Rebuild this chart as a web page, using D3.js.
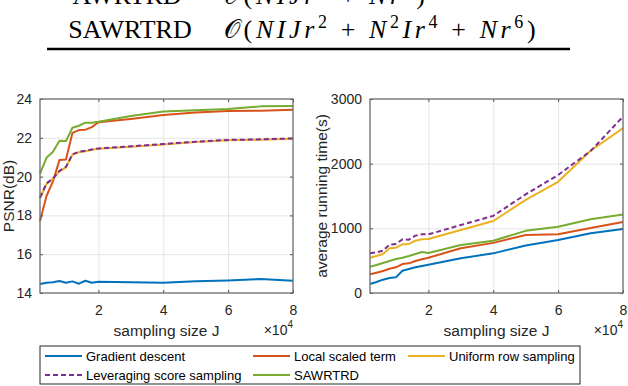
<!DOCTYPE html>
<html>
<head>
<meta charset="utf-8">
<script src="https://cdn.jsdelivr.net/npm/d3@7"></script>
<style>
  body { margin: 0; background: #fff; }
  svg { display: block; }
  .tick text { font-family: "Liberation Sans", Arial, sans-serif; fill: #262626; }
</style>
</head>
<body>
<script>
// sampling size J (x 10^4)
var samplingJ = [0.2, 0.4, 0.6, 0.8, 1.0, 1.2, 1.4, 1.6, 1.8, 2.0, 3, 4, 5, 6, 7, 8];

// PSNR(dB)
var psnrGradient   = [14.46, 14.53, 14.55, 14.62, 14.53, 14.60, 14.48, 14.63, 14.53, 14.58, 14.56, 14.53, 14.60, 14.65, 14.72, 14.63];
var psnrLocal      = [17.70, 19.00, 19.75, 20.85, 20.88, 22.25, 22.40, 22.42, 22.55, 22.80, 22.97, 23.17, 23.30, 23.38, 23.40, 23.45];
var psnrUniform    = [18.88, 19.62, 19.88, 20.27, 20.48, 21.13, 21.26, 21.31, 21.38, 21.43, 21.54, 21.66, 21.78, 21.87, 21.90, 21.95];
var psnrLeverage   = [18.92, 19.65, 19.90, 20.30, 20.50, 21.15, 21.28, 21.33, 21.40, 21.45, 21.56, 21.68, 21.80, 21.89, 21.92, 21.97];
var psnrSawrtrd    = [20.15, 20.97, 21.28, 21.85, 21.83, 22.52, 22.62, 22.78, 22.78, 22.83, 23.12, 23.35, 23.42, 23.48, 23.62, 23.64];

// average running time(s)
var timeGradient   = [139, 170, 206, 232, 242, 345, 371, 397, 418, 438, 536, 613, 735, 820, 923, 990];
var timeLocal      = [289, 314, 340, 376, 397, 448, 459, 495, 521, 546, 691, 775, 897, 908, 1005, 1098];
var timeUniform    = [546, 572, 603, 691, 701, 753, 758, 809, 830, 835, 974, 1113, 1440, 1720, 2200, 2550];
var timeLeverage   = [613, 629, 655, 748, 758, 830, 825, 887, 907, 907, 1051, 1193, 1526, 1825, 2195, 2727];
var timeSawrtrd    = [407, 433, 464, 495, 526, 546, 572, 603, 634, 619, 742, 809, 961, 1023, 1141, 1213];

var seriesNames  = ["Gradient descent", "Local scaled term", "Uniform row sampling", "Leveraging score sampling", "SAWRTRD"];
var seriesColors = ["#0072BD", "#D95319", "#EDB120", "#7E2F8E", "#77AC30"];
var seriesDash   = [null, null, null, "5,3", null];

var xTicks = [2, 4, 6, 8];
var psnrTicks = [14, 16, 18, 20, 22, 24];
var timeTicks = [0, 1000, 2000, 3000];

var svg = d3.select("body").append("svg")
    .attr("width", 628)
    .attr("height", 386)
    .style("background", "#fff");

// --- table fragment on top (first row is cut by the page edge, as in the source) ---
var serif = "'Liberation Serif', 'Times New Roman', serif";

function mathText(x, y, pieces) {
  var t = svg.append("text").attr("x", x).attr("y", y)
      .style("font-family", serif).style("font-size", "26px")
      .style("letter-spacing", "3.6px");
  var up = false;
  pieces.forEach(function (p) {
    var dy = 0;
    if (p[2] && !up) { dy = -10; up = true; }
    else if (!p[2] && up) { dy = 10; up = false; }
    t.append("tspan")
      .attr("dy", dy)
      .style("font-style", p[1] ? "italic" : "normal")
      .style("font-size", p[2] ? "18px" : "26px")
      .attr("xml:space", "preserve")
      .text(p[0]);
  });
}

svg.append("text").attr("x", 127).attr("y", 4).attr("text-anchor", "middle")
    .style("font-family", serif).style("font-size", "26px").text("AWRTRD");
mathText(224, 4, [
  ["\u{1D4AA}", false, false], ["(", false, false], ["NIJr", true, false], ["2", false, true],
  ["\u2005+\u2005", false, false], ["Nr", true, false], ["6", false, true], [")", false, false]
]);

svg.append("text").attr("x", 130).attr("y", 38).attr("text-anchor", "middle")
    .style("font-family", serif).style("font-size", "26px").text("SAWRTRD");
mathText(224, 38, [
  ["\u{1D4AA}", false, false], ["(", false, false], ["NIJr", true, false], ["2", false, true],
  ["\u2005+\u2005", false, false], ["N", true, false], ["2", false, true], ["Ir", true, false], ["4", false, true],
  ["\u2005+\u2005", false, false], ["Nr", true, false], ["6", false, true], [")", false, false]
]);
svg.append("line").attr("x1", 47).attr("x2", 570).attr("y1", 49).attr("y2", 49)
    .attr("stroke", "#000").attr("stroke-width", 2.5);

// --- panels ---
var sans = "'Liberation Sans', Arial, sans-serif";

function drawPanel(left, right, yDomain, yTicks, ySeries, yLabel, yLabelX) {
  var top = 99, bottom = 293;
  var x = d3.scaleLinear().domain([0.2, 8]).range([left, right]);
  var y = d3.scaleLinear().domain(yDomain).range([bottom, top]);
  var g = svg.append("g");

  // grid
  g.append("g").attr("transform", "translate(0," + bottom + ")")
    .call(d3.axisBottom(x).tickValues(xTicks.slice(0, 3)).tickSize(-(bottom - top)).tickFormat(""))
    .call(function (s) { s.select(".domain").remove(); s.selectAll("line").attr("stroke", "#e5e5e5"); });
  g.append("g").attr("transform", "translate(" + left + ",0)")
    .call(d3.axisLeft(y).tickValues(yTicks.slice(1, -1)).tickSize(-(right - left)).tickFormat(""))
    .call(function (s) { s.select(".domain").remove(); s.selectAll("line").attr("stroke", "#e5e5e5"); });

  // data lines
  var line = d3.line().x(function (d, i) { return x(samplingJ[i]); }).y(function (d) { return y(d); });
  ySeries.forEach(function (vals, k) {
    g.append("path").datum(vals)
      .attr("d", line)
      .attr("fill", "none")
      .attr("stroke", seriesColors[k])
      .attr("stroke-width", 2)
      .attr("stroke-dasharray", seriesDash[k])
      .attr("stroke-linejoin", "round");
  });

  // axes with inward ticks
  var ax = g.append("g").attr("transform", "translate(0," + bottom + ")")
    .call(d3.axisBottom(x).tickValues(xTicks).tickSize(-3).tickPadding(12).tickFormat(d3.format("d")));
  ax.selectAll("text").style("font-size", "14px");
  var axTop = g.append("g").attr("transform", "translate(0," + top + ")")
    .call(d3.axisTop(x).tickValues(xTicks).tickSize(-3).tickFormat(""));
  var ay = g.append("g").attr("transform", "translate(" + left + ",0)")
    .call(d3.axisLeft(y).tickValues(yTicks).tickSize(-3).tickPadding(8).tickFormat(d3.format("d")));
  ay.selectAll("text").style("font-size", "14px");
  var ayR = g.append("g").attr("transform", "translate(" + right + ",0)")
    .call(d3.axisRight(y).tickValues(yTicks).tickSize(-3).tickFormat(""));
  [ax, axTop, ay, ayR].forEach(function (a) {
    a.select(".domain").remove();
    a.selectAll("line").attr("stroke", "#555");
  });
  g.append("rect").attr("x", left).attr("y", top)
    .attr("width", right - left).attr("height", bottom - top)
    .attr("fill", "none").attr("stroke", "#6b6b6b").attr("stroke-width", 1.3);

  // labels
  g.append("text").attr("x", (left + right) / 2).attr("y", 336).attr("text-anchor", "middle")
    .style("font-family", sans).style("font-size", "15.5px").attr("fill", "#262626")
    .text("sampling size J");
  var ex = g.append("text").attr("x", right).attr("y", 335).attr("text-anchor", "end")
    .style("font-family", sans).style("font-size", "14px").attr("fill", "#262626");
  ex.append("tspan").text("\u00D710");
  ex.append("tspan").attr("dy", -7).style("font-size", "10px").text("4");
  g.append("text")
    .attr("transform", "translate(" + yLabelX + "," + ((top + bottom) / 2) + ") rotate(-90)")
    .attr("text-anchor", "middle").attr("dy", "0.35em")
    .style("font-family", sans).style("font-size", "15.5px").attr("fill", "#262626")
    .text(yLabel);
}

drawPanel(40, 293, [14, 24], psnrTicks,
  [psnrGradient, psnrLocal, psnrUniform, psnrLeverage, psnrSawrtrd], "PSNR(dB)", 9);
drawPanel(370, 623, [0, 3000], timeTicks,
  [timeGradient, timeLocal, timeUniform, timeLeverage, timeSawrtrd], "average running time(s)", 322);

// --- legend ---
var lg = svg.append("g");
lg.append("rect").attr("x", 40).attr("y", 346).attr("width", 540).attr("height", 38)
  .attr("fill", "#fff").attr("stroke", "#262626").attr("stroke-width", 1);
var legendPos = [[45, 356], [253, 356], [408, 356], [45, 375], [253, 375]];
seriesNames.forEach(function (name, k) {
  var p = legendPos[k];
  lg.append("line").attr("x1", p[0]).attr("x2", p[0] + 37).attr("y1", p[1]).attr("y2", p[1])
    .attr("stroke", seriesColors[k]).attr("stroke-width", 2)
    .attr("stroke-dasharray", seriesDash[k]);
  lg.append("text").attr("x", p[0] + 41).attr("y", p[1]).attr("dy", "0.35em")
    .style("font-family", sans).style("font-size", "13px").attr("fill", "#000")
    .text(name);
});
</script>
</body>
</html>
